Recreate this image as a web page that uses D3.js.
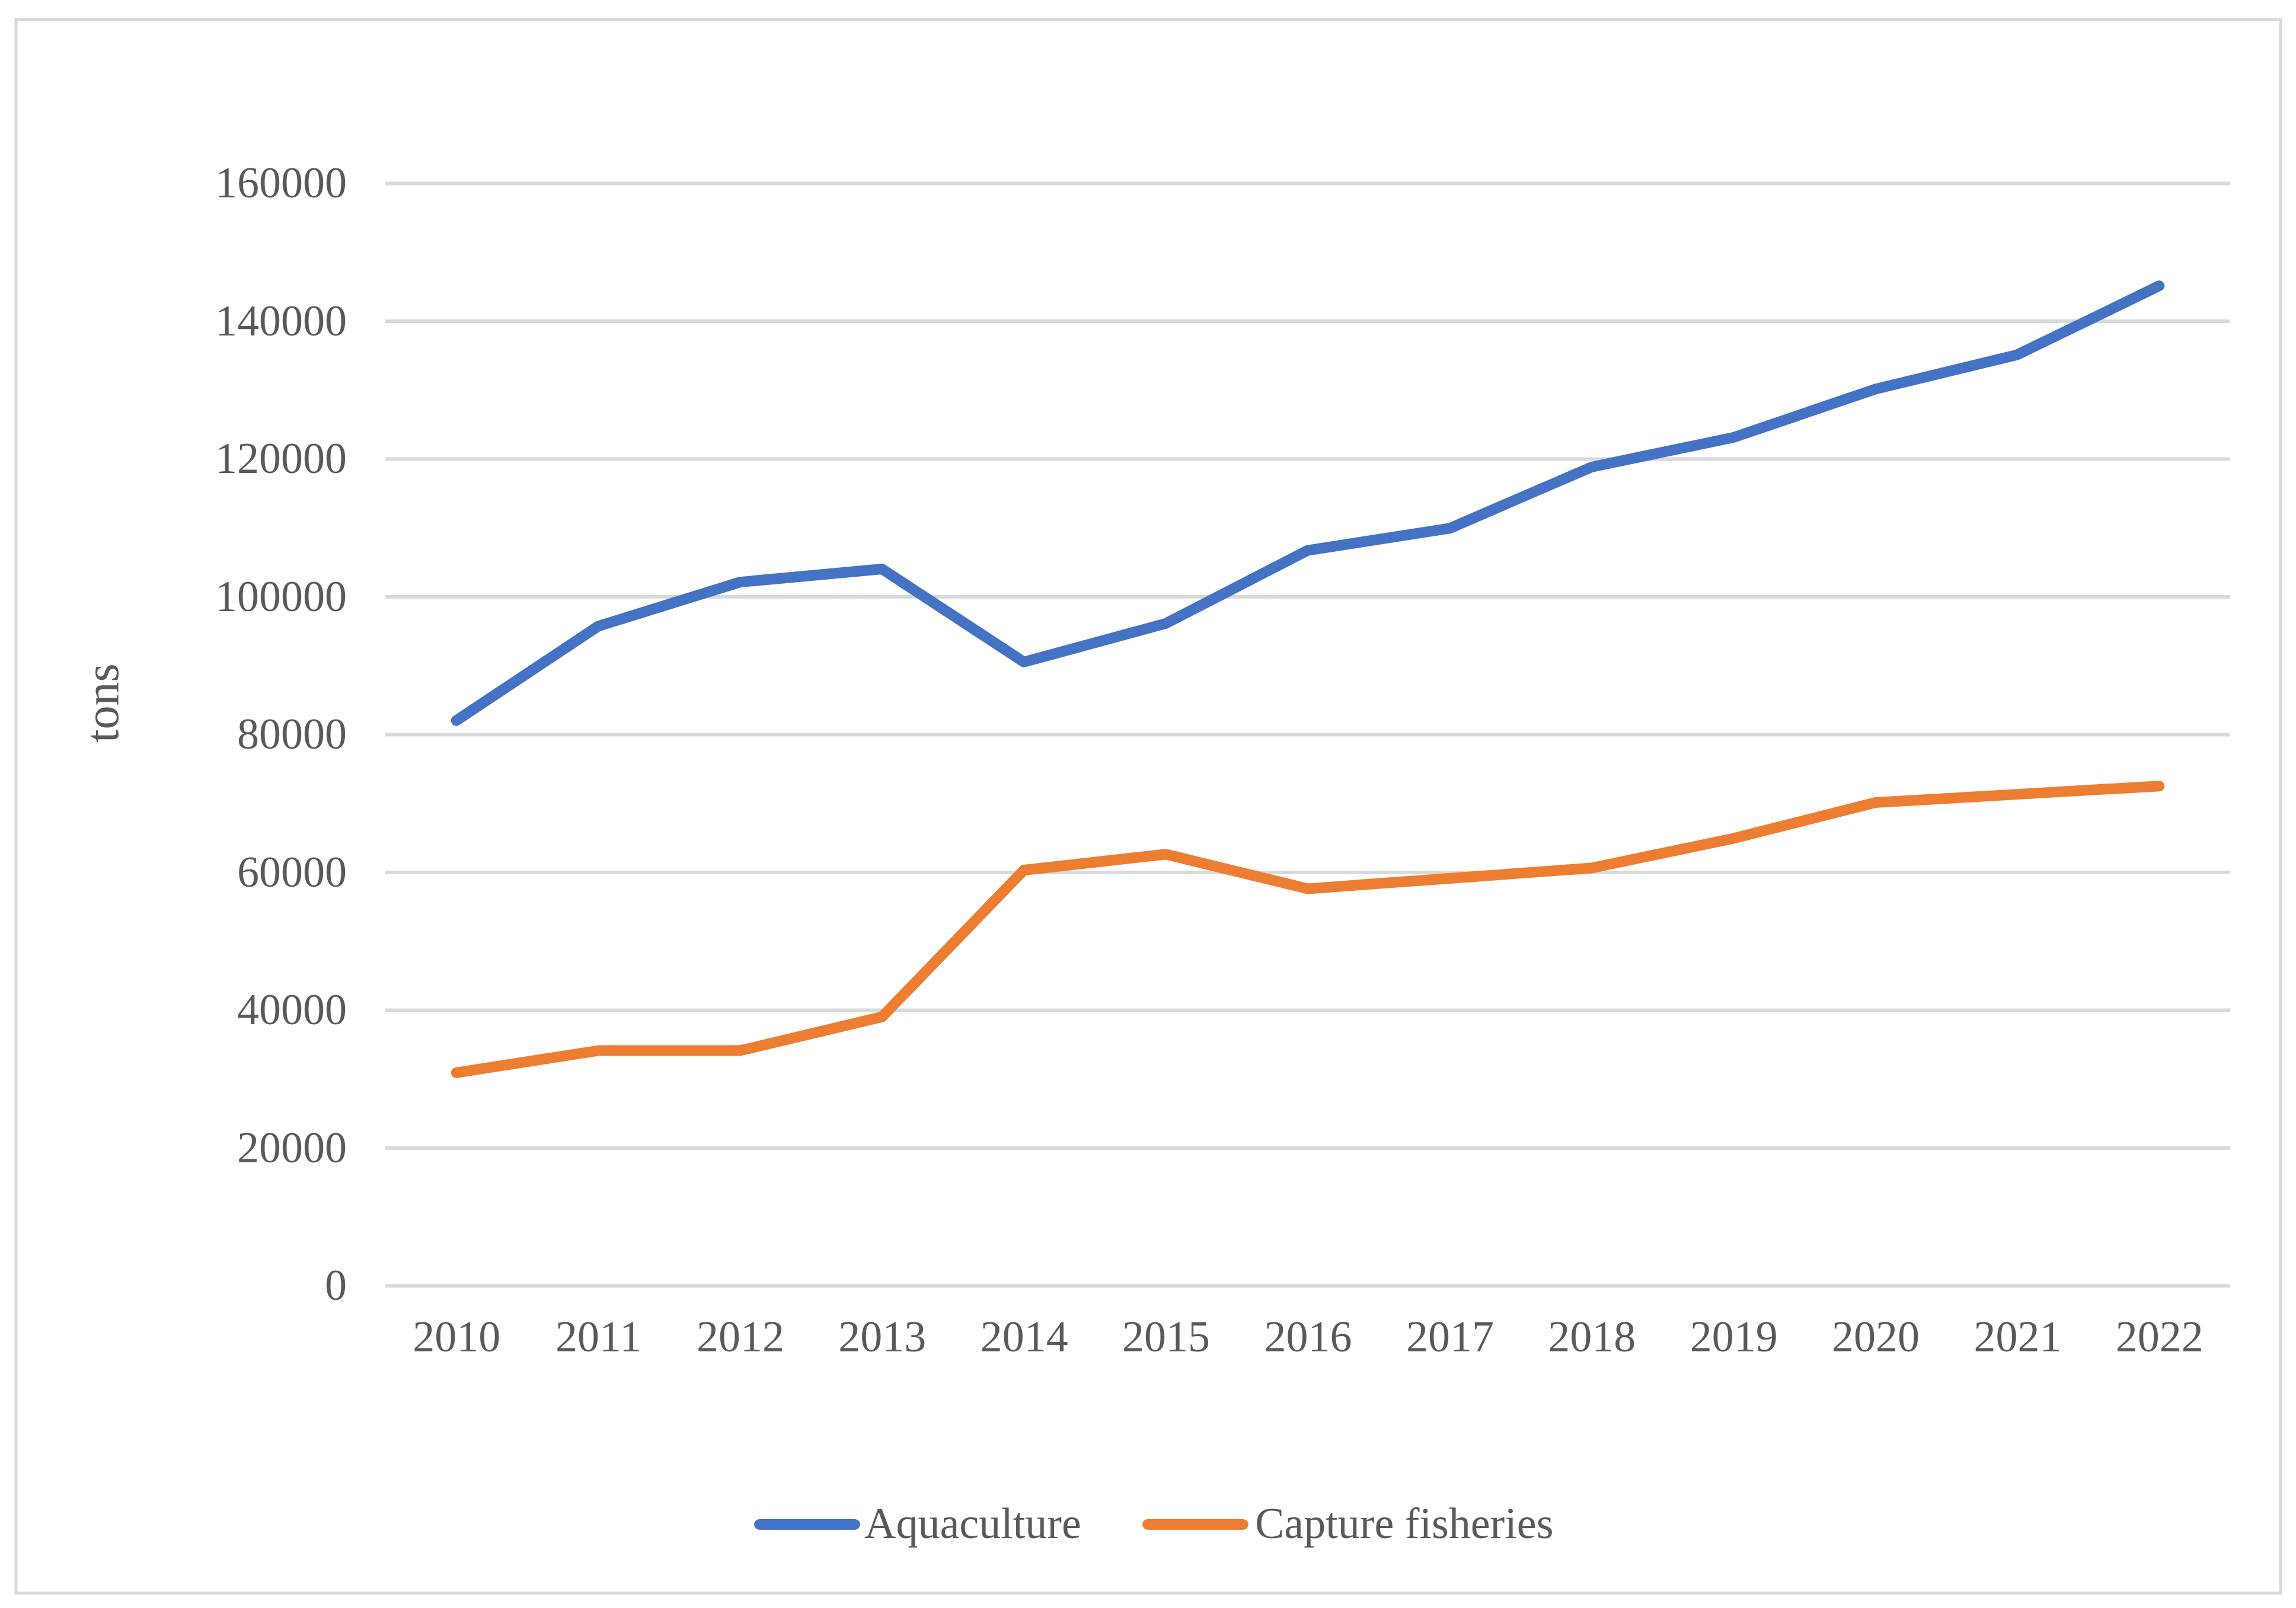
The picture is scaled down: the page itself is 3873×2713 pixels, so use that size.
<!DOCTYPE html>
<html>
<head>
<meta charset="utf-8">
<script src="https://cdn.jsdelivr.net/npm/d3@7"></script>
<style>
  html, body { margin: 0; padding: 0; background: #fff; }
  svg { display: block; }
  text { font-family: "Liberation Serif", "Times New Roman", serif; fill: #595959; }
</style>
</head>
<body>
<svg id="chart"></svg>
<script>
// data
const years = ['2010','2011','2012','2013','2014','2015','2016','2017','2018','2019','2020','2021','2022'];
const aquaculture = [82000, 95700, 102100, 104000, 90500, 96100, 106700, 109900, 118800, 123100, 130100, 135100, 145100];
const capture = [30900, 34100, 34100, 39000, 60300, 62600, 57600, 59100, 60600, 64900, 70100, 71300, 72500];
const yTicks = [0, 20000, 40000, 60000, 80000, 100000, 120000, 140000, 160000];
const seriesNames = ['Aquaculture', 'Capture fisheries'];
const seriesColors = ['#4472C4', '#ED7D31'];

(function(){
  const W = 3873, H = 2713;
  const plotL = 650, plotR = 3762, plotT = 309, plotB = 2169;
  const fontSize = 74;

  const svg = d3.select('#chart').attr('width', W).attr('height', H);

  svg.append('rect')
    .attr('x', 27).attr('y', 33)
    .attr('width', 3847 - 27).attr('height', 2688 - 33)
    .attr('fill', '#fff')
    .attr('stroke', '#d9d9d9')
    .attr('stroke-width', 5);

  const x = d3.scalePoint().domain(years).range([plotL, plotR]).padding(0.5);
  const y = d3.scaleLinear().domain([0, 160000]).range([plotB, plotT]);

  // y axis + gridlines
  const gy = svg.append('g')
    .attr('transform', `translate(${plotL},0)`)
    .call(d3.axisLeft(y).tickValues(yTicks).tickFormat(d3.format('d'))
      .tickSize(-(plotR - plotL)).tickPadding(65));
  gy.select('.domain').remove();
  gy.selectAll('.tick line').attr('stroke', '#d9d9d9').attr('stroke-width', 6);
  gy.selectAll('.tick text').attr('font-size', fontSize).attr('fill', '#595959')
    .attr('font-family', '"Liberation Serif", "Times New Roman", serif');

  // x axis labels
  const gx = svg.append('g')
    .attr('transform', `translate(0,${plotB})`)
    .call(d3.axisBottom(x).tickSize(0).tickPadding(58));
  gx.select('.domain').remove();
  gx.selectAll('.tick text').attr('font-size', fontSize).attr('fill', '#595959')
    .attr('font-family', '"Liberation Serif", "Times New Roman", serif');

  // axis title
  svg.append('text')
    .attr('transform', 'translate(172,1186) rotate(-90)')
    .attr('text-anchor', 'middle')
    .attr('dominant-baseline', 'central')
    .attr('font-size', 80)
    .text('tons');

  // lines
  const line = d3.line().x((d, i) => x(years[i])).y(d => y(d));
  [aquaculture, capture].forEach((vals, k) => {
    svg.append('path')
      .datum(vals)
      .attr('d', line)
      .attr('fill', 'none')
      .attr('stroke', seriesColors[k])
      .attr('stroke-width', 18)
      .attr('stroke-linecap', 'round')
      .attr('stroke-linejoin', 'round');
  });

  // legend
  const legendY = 2572;
  const legendItems = [
    { x0: 1281, x1: 1442, tx: 1458 },
    { x0: 1936, x1: 2097, tx: 2117 }
  ];
  legendItems.forEach((it, k) => {
    svg.append('line')
      .attr('x1', it.x0).attr('x2', it.x1)
      .attr('y1', legendY).attr('y2', legendY)
      .attr('stroke', seriesColors[k])
      .attr('stroke-width', 18)
      .attr('stroke-linecap', 'round');
    svg.append('text')
      .attr('x', it.tx).attr('y', 2595)
      .attr('font-size', fontSize)
      .text(seriesNames[k]);
  });
})();
</script>
</body>
</html>
